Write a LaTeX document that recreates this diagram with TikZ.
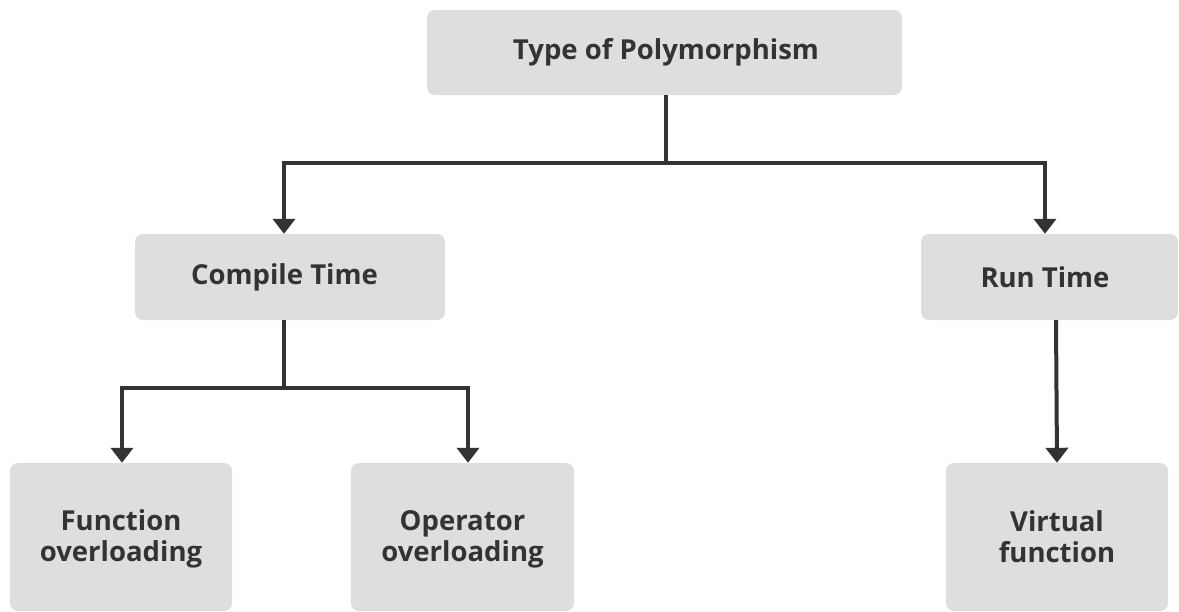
\documentclass[tikz,border=0pt]{standalone}
\usepackage{fontspec}
\setmainfont{Open Sans}
\usetikzlibrary{arrows.meta}
\definecolor{boxgray}{HTML}{DEDEDE}
\definecolor{inkgray}{HTML}{333333}
\begin{document}
\begin{tikzpicture}[x=1pt, y=-1pt,
    box/.style={fill=boxgray, rounded corners=8pt, inner sep=0pt, align=center,
      text=inkgray, font=\fontsize{27.5}{31}\selectfont\bfseries},
    link/.style={draw=inkgray, line width=4pt},
    arr/.style={link, -{Triangle[width=22pt, length=15pt]}}]

      \useasboundingbox (0,0) rectangle (1179,611);

      \node[box, minimum width=475pt, minimum height=85pt] (poly) at (664.5,52.5) {\kern3pt Type of Polymorphism};
      \node[box, minimum width=310pt, minimum height=86pt] (comp) at (290,277) {Compile Time\kern11pt};
      \node[box, minimum width=257pt, minimum height=86pt] (run) at (1049.5,277) {Run Time\kern9pt};
      \node[box, minimum width=222pt, minimum height=148pt] (func) at (121,537) {\rule{0pt}{24pt}Function\\overloading};
      \node[box, minimum width=223pt, minimum height=148pt] (oper) at (462.5,537) {\rule{0pt}{24pt}Operator\\overloading};
      \node[box, minimum width=222pt, minimum height=148pt] (virt) at (1057,537) {Virtual\\function};

      \coordinate (topbar) at (665.5,163);
      \coordinate (compbar) at (284,388);

      \draw[link] ([xshift=1pt]poly.south) -- (topbar);
      \draw[arr] (topbar) -| ([xshift=-6pt]comp.north);
      \draw[arr] (topbar) -| ([xshift=-4.5pt]run.north);

      \draw[link] ([xshift=-6pt]comp.south) -- (compbar);
      \draw[arr] (compbar) -| ([xshift=1pt]func.north);
      \draw[arr] (compbar) -| ([xshift=5.5pt]oper.north);

      \draw[arr] ([xshift=6.5pt]run.south) -- (virt.north);
    \end{tikzpicture}
\end{document}
